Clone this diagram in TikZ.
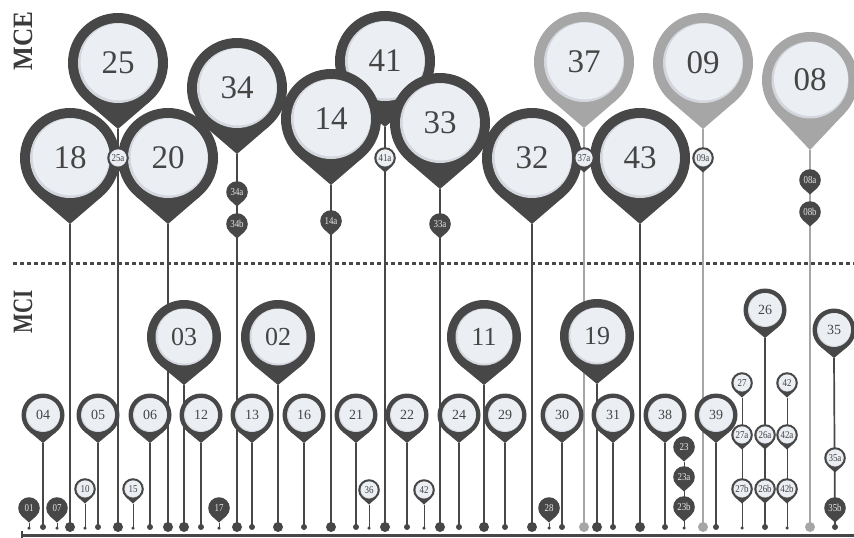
\documentclass[tikz,border=0pt]{standalone}
\usepackage{fontspec}
\setmainfont{Liberation Serif}
\usepackage{graphicx}
\pgfdeclarelayer{background}
\pgfsetlayers{background,main}
\definecolor{darkc}{HTML}{474747}
\definecolor{grayc}{HTML}{A6A6A6}
\definecolor{lightc}{HTML}{EBEEF3}
\definecolor{shadowc}{HTML}{D3D7DD}
\definecolor{txtc}{HTML}{454545}
\definecolor{wtxt}{HTML}{E6E6E6}
\definecolor{labc}{HTML}{3A3A3A}

\tikzset{
  pinlabel/.style={inner sep=0pt, outer sep=0pt},
  stemA/.style={line width=2.7pt, draw=darkc},
  stemG/.style={line width=2.7pt, draw=grayc},
  stemB/.style={line width=2.3pt, draw=darkc},
  stemM/.style={line width=1.7pt, draw=darkc},
  stemS/.style={line width=1pt, draw=darkc},
  dotBig/.style={circle, fill=darkc, minimum size=10pt, inner sep=0pt, outer sep=0pt},
  dotBigG/.style={circle, fill=grayc, minimum size=10pt, inner sep=0pt, outer sep=0pt},
  dotMed/.style={circle, fill=darkc, minimum size=6pt, inner sep=0pt, outer sep=0pt},
  dotSm/.style={circle, fill=darkc, minimum size=3.5pt, inner sep=0pt, outer sep=0pt},
  sidelabel/.style={rotate=90, text=labc, inner sep=0pt, font=\fontsize{28pt}{28pt}\selectfont\bfseries},
  baseline/.style={line width=3pt, draw=darkc},
  divider/.style={line width=3pt, draw=darkc, dash pattern=on 4pt off 3pt},
}

% teardrop: x, y, R, d, colour
\newcommand\pinshape[5]{%
  \pgfmathsetmacro\pinB{acos(#3/#4)}%
  \pgfmathsetmacro\pinTX{#3*sin(\pinB)}%
  \pgfmathsetmacro\pinTY{#3*cos(\pinB)}%
  \fill[#5] (#1,#2) circle[radius=#3];
  \fill[#5] (#1,{#2+#4}) -- ({#1-\pinTX},{#2+\pinTY}) -- ({#1+\pinTX},{#2+\pinTY}) -- cycle;
}
% name, x, y, R, r, d, ring colour, label
\newcommand\mypin[8]{%
  \pinshape{#2}{#3}{#4}{#6}{#7}%
  \fill[shadowc] (#2,#3) circle[radius=#5];
  \fill[lightc] ({#2+0.025*#5},{#3-0.025*#5}) circle[radius={0.96*#5}];
  \node[pinlabel] (#1) at (#2,#3) {#8};
  \coordinate (#1-t) at (#2,{#3+#6});
}
\newcommand\PinXL[5]{\mypin{#1}{#2}{#3}{50}{40}{66}{#4}{\fontsize{33pt}{33pt}\selectfont\color{txtc}#5}}
\newcommand\PinL[4]{\mypin{#1}{#2}{#3}{37}{28.5}{48}{darkc}{\fontsize{26pt}{26pt}\selectfont\color{txtc}#4}}
\newcommand\PinM[4]{\mypin{#1}{#2}{#3}{21.5}{17}{28}{darkc}{\fontsize{14pt}{14pt}\selectfont\color{txtc}#4}}
\newcommand\PinS[4]{\mypin{#1}{#2}{#3}{10.8}{8.6}{14.5}{darkc}{\fontsize{10.5pt}{10.5pt}\selectfont\color{txtc}\scalebox{0.85}[1]{#4}}}
\newcommand\PinD[4]{%
  \pinshape{#2}{#3}{10.8}{14.5}{darkc}%
  \node[pinlabel] (#1) at (#2,#3) {\fontsize{10.5pt}{10.5pt}\selectfont\color{wtxt}\scalebox{0.85}[1]{#4}};
  \coordinate (#1-t) at (#2,{#3+14.5});
}

\begin{document}
\begin{tikzpicture}[x=1pt,y=-1pt]
\useasboundingbox (0,0) rectangle (854,538);

% side labels
\node[sidelabel] (lmce) at (23,41) {\scalebox{0.9}[1]{MCE}};
\node[sidelabel] (lmci) at (23,312) {\scalebox{0.75}[1]{MCI}};

% divider and base line
\coordinate (d0) at (13,263.5);
\coordinate (d1) at (854,263.5);
\coordinate (bl0) at (21,535);
\coordinate (bl1) at (854,535);
\coordinate (tk0) at (22,531);
\coordinate (tk1) at (22,539);
\draw[baseline] (bl0) -- (bl1);
\draw[line width=2pt, darkc] (tk0) -- (tk1);

% ---------- MCE pins ----------
\PinXL{p25}{118}{63}{darkc}{25}
\PinXL{p41}{385}{61}{darkc}{41}
\PinXL{p37}{584}{62}{grayc}{37}
\PinXL{p09}{703}{63}{grayc}{09}
\mypin{p08}{810}{80}{48}{38.5}{70}{grayc}{\fontsize{33pt}{33pt}\selectfont\color{txtc}08}
\PinXL{p34}{237}{88}{darkc}{34}
\PinXL{p18}{70}{158}{darkc}{18}
\PinXL{p20}{168}{158}{darkc}{20}
\PinXL{p14}{331}{119}{darkc}{14}
\PinXL{p33}{440}{123}{darkc}{33}
\PinXL{p32}{532}{158}{darkc}{32}
\PinXL{p43}{640}{158}{darkc}{43}

\PinS{p25a}{118}{158}{25a}
\PinS{p41a}{385}{158}{41a}
\PinS{p37a}{584}{158}{37a}
\PinS{p09a}{703}{158}{09a}
\PinD{p34a}{237}{192}{34a}
\PinD{p34b}{237}{224}{34b}
\PinD{p14a}{331}{221}{14a}
\PinD{p33a}{440}{224}{33a}
\PinD{p08a}{810}{180}{08a}
\PinD{p08b}{810}{212}{08b}

% ---------- MCI pins ----------
\PinL{p03}{184}{337}{03}
\PinL{p02}{278}{337}{02}
\PinL{p11}{484}{337}{11}
\PinL{p19}{597}{336}{19}

\PinM{p04}{43}{415}{04}
\PinM{p05}{98}{415}{05}
\PinM{p06}{150}{415}{06}
\PinM{p12}{201}{415}{12}
\PinM{p13}{252}{415}{13}
\PinM{p16}{304}{415}{16}
\PinM{p21}{356}{415}{21}
\PinM{p22}{407}{415}{22}
\PinM{p24}{459}{415}{24}
\PinM{p29}{505}{415}{29}
\PinM{p30}{562}{415}{30}
\PinM{p31}{613}{415}{31}
\PinM{p38}{665}{415}{38}
\PinM{p39}{716}{415}{39}
\PinM{p26}{765}{310}{26}
\PinM{p35}{834}{330}{35}

\PinS{p10}{85}{489}{10}
\PinS{p15}{133}{489}{15}
\PinS{p36}{369}{490}{36}
\PinS{p42}{424}{490}{42}
\PinS{p27}{742}{383}{27}
\PinS{p42r}{787}{383}{42}
\PinS{p27a}{742}{435}{27a}
\PinS{p26a}{765}{435}{26a}
\PinS{p42a}{787}{435}{42a}
\PinS{p27b}{742}{489}{27b}
\PinS{p26b}{765}{489}{26b}
\PinS{p42b}{787}{489}{42b}
\PinS{p35a}{835}{458}{35a}

\PinD{p01}{29}{508}{01}
\PinD{p07}{57}{508}{07}
\PinD{p17}{219}{508}{17}
\PinD{p28}{549}{508}{28}
\PinD{p23}{684}{447}{23}
\PinD{p23a}{684}{477}{23a}
\PinD{p23b}{684}{507}{23b}
\PinD{p35b}{835}{508}{35b}

% ---------- base dots ----------
\foreach \n/\x in {18/70,25/118,20/168,34/237,14/331,41/385,33/440,32/532,43/640,03/184,02/278,11/484,19/597}
  \node[dotBig] (b\n) at (\x,527) {};
\foreach \n/\x in {37/584,09/703,08/810}
  \node[dotBigG] (b\n) at (\x,527) {};
\foreach \n/\x in {04/43,05/98,06/150,12/201,13/252,16/304,21/356,22/407,24/459,29/505,30/562,31/613,38/665,39/716,26/765,35/835}
  \node[dotMed] (b\n) at (\x,527) {};
\foreach \n/\x in {01/29,07/57,10/85,15/133,17/219,36/369,42/424,28/549,23/684,27/742,42r/787}
  \node[dotSm] (b\n) at (\x,528) {};

% ---------- stems (behind) ----------
\begin{pgfonlayer}{background}
\draw[divider] (d0) -- (d1);
\foreach \n in {18,25,20,34,14,41,33,32,43}
  \draw[stemA] (p\n-t) -- (b\n.center);
\foreach \n in {37,09,08}
  \draw[stemG] (p\n-t) -- (b\n.center);
\foreach \n in {03,02,11,19}
  \draw[stemB] (p\n-t) -- (b\n.center);
\foreach \n in {04,05,06,12,13,16,21,22,24,29,30,31,38,39,26,35}
  \draw[stemM] (p\n-t) -- (b\n.center);
\foreach \n in {01,07,10,15,17,36,42,28,23,27,42r}
  \draw[stemS] (p\n-t) -- (b\n.center);
\end{pgfonlayer}
\end{tikzpicture}
\end{document}
